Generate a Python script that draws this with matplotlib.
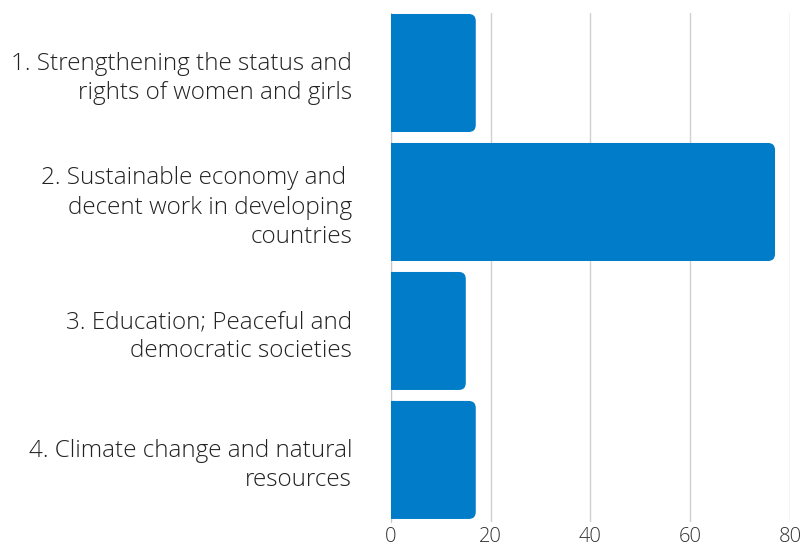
import numpy as np
import matplotlib.pyplot as plt
from matplotlib.patches import FancyBboxPatch

categories = [
    "1. Strengthening the status and\nrights of women and girls",
    "2. Sustainable economy and \ndecent work in developing\ncountries",
    "3. Education; Peaceful and\ndemocratic societies",
    "4. Climate change and natural\nresources",
]
values = [17, 77, 15, 17]
xticks = [0, 20, 40, 60, 80]

bar_color = "#017cc8"
plt.rcParams['font.family'] = ['Open Sans', 'DejaVu Sans']

fig = plt.figure(figsize=(8.02, 5.49), dpi=100)
ax = fig.add_axes([0.4875, 0.0492, 0.985 - 0.4875, 0.9763 - 0.0492])

ypos = np.arange(len(categories))
bars = ax.barh(ypos, values, height=0.915, color=bar_color)
ax.set_xlim(0, 80)
ax.set_ylim(3.481, -0.465)
fig.canvas.draw()

# rounded right corners (~7 px radius)
bb = ax.get_window_extent()
ux = 80 / bb.width
uy = (3.481 + 0.465) / bb.height
r = 7 * ux
for b in bars:
    x0, y0 = b.get_x(), b.get_y()
    w, h = b.get_width(), b.get_height()
    b.set_visible(False)
    p = FancyBboxPatch((x0 - 3 * r, y0), w + 3 * r, h,
                       boxstyle=f"round,pad=0,rounding_size={r}",
                       mutation_aspect=uy / ux, facecolor=bar_color,
                       edgecolor="none", clip_on=True, zorder=3)
    ax.add_patch(p)

ax.set_xticks(xticks)
ax.set_xticklabels([str(t) for t in xticks], fontsize=14.5, color="#333333",
                   fontweight="light")
ax.set_yticks(ypos)
ax.set_yticklabels(categories, fontsize=17.5, color="#222222", fontweight="light",
                   ha="right", linespacing=1.3)
ax.tick_params(axis="x", length=0, pad=3.5)
ax.tick_params(axis="y", length=0, pad=28)
ax.grid(axis="x", color="#d0d0d0", linewidth=1)
ax.set_axisbelow(True)
for s in ["top", "right", "bottom"]:
    ax.spines[s].set_visible(False)
ax.spines["left"].set_color("#c8c8c8")

fig.savefig("out.png", dpi=100)
